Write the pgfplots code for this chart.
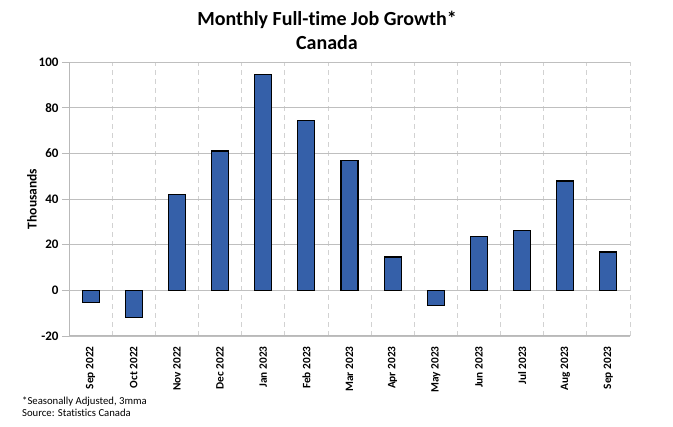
\documentclass[border=0pt]{standalone}
\usepackage{pgfplots}
\pgfplotsset{compat=1.18}
\usepackage{fontspec}
\setmainfont{Carlito}[Ligatures=NoCommon]
\definecolor{barblue}{HTML}{3560A9}
\begin{document}
\begin{tikzpicture}[x=1pt,y=1pt]
\useasboundingbox (0,0) rectangle (673,427);
\begin{axis}[
  at={(69pt,91pt)}, anchor=south west,
  scale only axis, width=561pt, height=274pt,
  xmin=-0.5, xmax=12.5, ymin=-20, ymax=100,
  ytick={-20,0,20,40,60,80,100},
  xtick={0,...,12},
  xticklabels={Sep 2022,Oct 2022,Nov 2022,Dec 2022,Jan 2023,Feb 2023,Mar 2023,Apr 2023,May 2023,Jun 2023,Jul 2023,Aug 2023,Sep 2023},
  x tick label style={rotate=90, anchor=east, font=\fontsize{11.3}{11.3}\selectfont\bfseries},
  y tick label style={font=\fontsize{13}{13}\selectfont\bfseries},
  /pgf/number format/assume math mode=true,
  major x tick style={draw=none},
  minor xtick={0.5,1.5,...,12.5},
  minor tick length=0pt,
  xminorgrids, minor x grid style={dashed, dash pattern=on 5pt off 4pt, gray!35, line width=0.8pt},
  ymajorgrids, major y grid style={gray!50, line width=0.8pt},
  axis x line*=bottom, axis y line*=left,
  axis line style={gray!55, line width=1pt},
  tick align=outside, major tick length=7pt,
  major y tick style={gray!55, line width=0.8pt},
  extra y ticks={0}, extra y tick labels={},
  extra y tick style={grid=major, major grid style={black, line width=1.2pt}, major tick length=7pt},
  ybar, bar width=17pt,
]
\addplot[fill=barblue, draw=black, line width=1.1pt] coordinates {
  (0,-5.2) (1,-12) (2,41.9) (3,61) (4,94.4) (5,74.4) (6,57)
  (7,14.6) (8,-6.5) (9,23.7) (10,26.3) (11,47.9) (12,16.8)
};
\end{axis}
\node[font=\fontsize{20}{20}\selectfont\bfseries] at (327,407) {Monthly Full-time Job Growth*};
\node[font=\fontsize{20}{20}\selectfont\bfseries] at (327,384) {Canada};
\node[rotate=90, font=\fontsize{13.5}{13.5}\selectfont\bfseries] at (32,228) {Thousands};
\node[anchor=west, font=\fontsize{10.7}{10.7}\selectfont, inner sep=0pt] at (22,25) {*Seasonally Adjusted, 3mma};
\node[anchor=west, font=\fontsize{10.7}{10.7}\selectfont, inner sep=0pt] at (22,14) {Source: Statistics Canada};
\end{tikzpicture}
\end{document}
